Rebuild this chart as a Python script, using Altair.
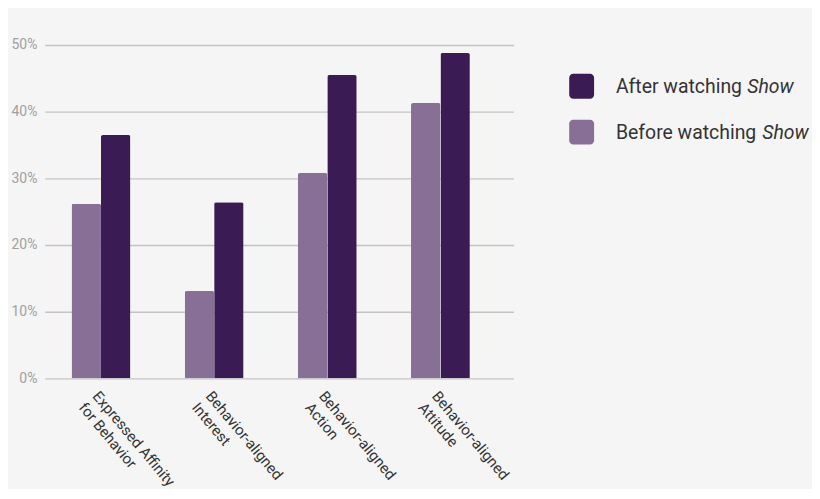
import pandas as pd
import altair as alt

# values
categories = [
    "Expressed Affinity|for Behavior",
    "Behavior-aligned|Interest",
    "Behavior-aligned|Action",
    "Behavior-aligned|Attitude",
]
series = ["Before watching Show", "After watching Show"]
before = [0.262, 0.131, 0.308, 0.413]
after = [0.365, 0.264, 0.455, 0.488]
colors = ["#876f95", "#3b1b54"]
y_ticks = [0, 0.1, 0.2, 0.3, 0.4, 0.5]

rows = []
for cat, b, a in zip(categories, before, after):
    rows.append({"category": cat, "series": series[0], "value": b})
    rows.append({"category": cat, "series": series[1], "value": a})
df = pd.DataFrame(rows)

bars = alt.Chart(df).mark_bar(cornerRadiusTopLeft=2, cornerRadiusTopRight=2).encode(
    x=alt.X(
        "category:N", sort=categories, title=None,
        scale=alt.Scale(paddingInner=0.48, paddingOuter=0.311, align=0.38, round=False),
        axis=alt.Axis(
            labelAngle=50, labelAlign="left", labelBaseline="top",
            labelExpr="split(datum.label, '|')", labelPadding=10,
            ticks=False, domain=False, labelFontSize=15, labelColor="#333333",
            labelFont="Roboto", labelLineHeight=18, labelOverlap=False,
        ),
    ),
    xOffset=alt.XOffset("series:N", sort=series, scale=alt.Scale(paddingInner=0, paddingOuter=0)),
    y=alt.Y(
        "value:Q", title=None, scale=alt.Scale(domain=[0, 0.5]),
        axis=alt.Axis(
            format=".0%", values=y_ticks, domain=False, ticks=False,
            labelFontSize=14, labelColor="#a0a0a0", labelFont="Roboto",
            labelPadding=8, gridColor="#c4c4c4", gridWidth=1.4,
        ),
    ),
    color=alt.Color("series:N", scale=alt.Scale(domain=series, range=colors), legend=None),
)

# hand-made legend, so that "Show" can be set in italics
legend_names = ["After watching", "Before watching"]
legend_colors = [colors[1], colors[0]]
show_x = [706, 721]
layers = [bars]
for i, (name, col) in enumerate(zip(legend_names, legend_colors)):
    y0 = 29 + i * 46
    item = pd.DataFrame({"label": [name], "word": ["Show"]})
    swatch = alt.Chart(item).mark_rect(cornerRadius=4, color=col).encode(
        x=alt.value(527), x2=alt.value(552), y=alt.value(y0), y2=alt.value(y0 + 25)
    )
    text = alt.Chart(item).mark_text(
        align="left", baseline="middle", font="Roboto", fontSize=19.5, color="#333333"
    ).encode(x=alt.value(574), y=alt.value(y0 + 13), text="label:N")
    word = alt.Chart(item).mark_text(
        align="left", baseline="middle", font="Roboto", fontSize=19.5,
        fontStyle="italic", color="#333333"
    ).encode(x=alt.value(show_x[i]), y=alt.value(y0 + 13), text="word:N")
    layers += [swatch, text, word]

chart = alt.layer(*layers).properties(
    width=471, height=335,
    autosize=alt.AutoSizeParams(type="none"),
    padding={"left": 37, "top": 36, "right": 300, "bottom": 110},
    background="#f5f5f5",
).configure_view(stroke=None)

chart.save("out.html", embed_options={"renderer": "svg", "actions": False})
